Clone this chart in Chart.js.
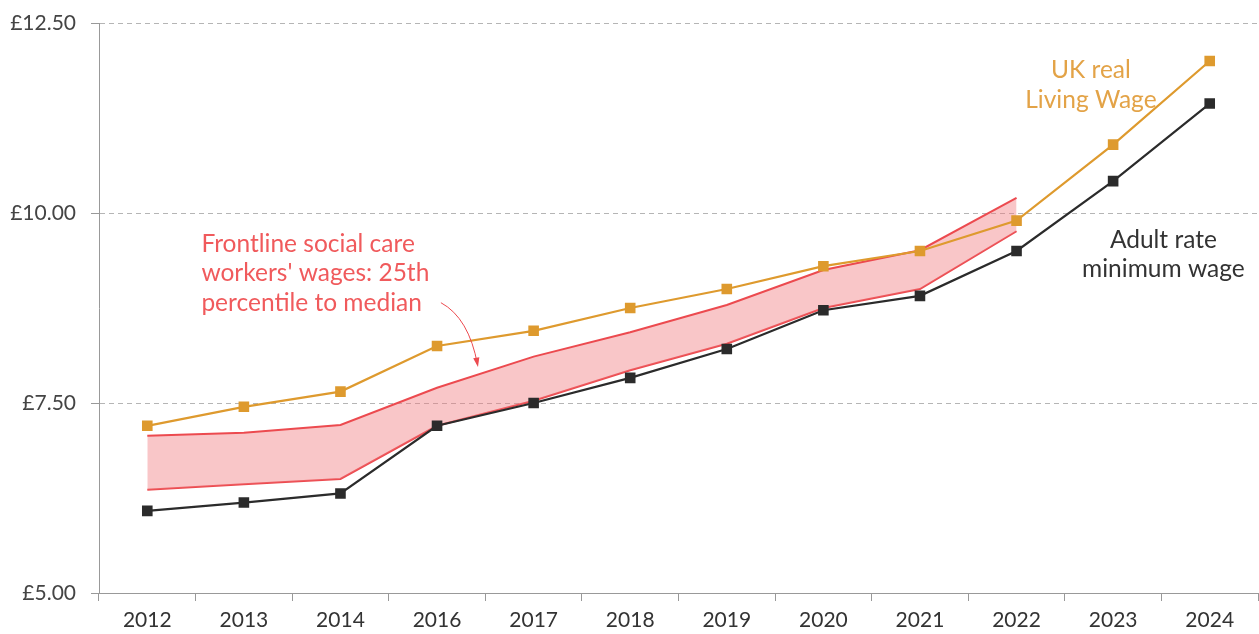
<!DOCTYPE html>
<html>
<head>
<meta charset="utf-8">
<script src="https://cdn.jsdelivr.net/npm/chart.js"></script>
<style>
  html, body { margin: 0; padding: 0; background: #fff; overflow: hidden; }
  #wrap { width: 1259px; height: 634px; position: relative; }
</style>
</head>
<body>
<div id="wrap"><canvas id="wages"></canvas></div>
<script>
// categories (no 2015 in the source)
const years = ['2012', '2013', '2014', '2016', '2017', '2018', '2019', '2020', '2021', '2022', '2023', '2024'];

// UK real Living Wage
const livingWage = [7.20, 7.45, 7.65, 8.25, 8.45, 8.75, 9.00, 9.30, 9.50, 9.90, 10.90, 12.00];
// adult rate minimum wage
const minWage = [6.08, 6.19, 6.31, 7.20, 7.50, 7.83, 8.21, 8.72, 8.91, 9.50, 10.42, 11.44];
// frontline social care workers: median and 25th percentile
const careMedian = [7.07, 7.11, 7.21, 7.70, 8.11, 8.43, 8.79, 9.25, 9.51, 10.20, null, null];
const care25th = [6.36, 6.43, 6.50, 7.20, 7.53, 7.93, 8.28, 8.75, 9.00, 9.76, null, null];

const yTicks = [5, 7.5, 10, 12.5];

const FONT = 'Lato, "Open Sans", sans-serif';
const ORANGE = '#de9a2e';
const BLACK = '#2b2b2b';
const RED = '#ec4a4f';

// labels + arrow, placed in data space (category index, £ value)
const notes = {
  id: 'notes',
  afterDatasetsDraw(chart) {
    const { ctx, scales: { x, y } } = chart;
    ctx.save();
    ctx.font = '24.5px ' + FONT;
    ctx.textBaseline = 'alphabetic';

    ctx.fillStyle = '#f05a5c';
    ctx.textAlign = 'left';
    const careLines = ['Frontline social care', "workers' wages: 25th", 'percentile to median'];
    careLines.forEach((t, i) => ctx.fillText(t, x.getPixelForValue(0.56), y.getPixelForValue(9.487) + i * 29.5));

    ctx.textAlign = 'center';
    ctx.fillStyle = '#e3a347';
    ctx.fillText('UK real', x.getPixelForValue(9.77), y.getPixelForValue(11.78));
    ctx.fillText('Living Wage', x.getPixelForValue(9.77), y.getPixelForValue(11.38));

    ctx.fillStyle = '#333';
    ctx.fillText('Adult rate', x.getPixelForValue(10.52), y.getPixelForValue(9.54));
    ctx.fillText('minimum wage', x.getPixelForValue(10.52), y.getPixelForValue(9.16));

    // curved arrow
    const sx = x.getPixelForValue(3.04), sy = y.getPixelForValue(8.82);
    const cx = x.getPixelForValue(3.33), cy = y.getPixelForValue(8.62);
    const ex = x.getPixelForValue(3.42), ey = y.getPixelForValue(8.0);
    ctx.strokeStyle = RED;
    ctx.fillStyle = RED;
    ctx.lineWidth = 1;
    ctx.beginPath();
    ctx.moveTo(sx, sy);
    ctx.quadraticCurveTo(cx, cy, ex, ey);
    ctx.stroke();
    const ang = Math.atan2(ey - cy, ex - cx);
    ctx.beginPath();
    ctx.moveTo(ex + 2 * Math.cos(ang), ey + 2 * Math.sin(ang));
    ctx.lineTo(ex - 8 * Math.cos(ang - 0.4), ey - 8 * Math.sin(ang - 0.4));
    ctx.lineTo(ex - 8 * Math.cos(ang + 0.4), ey - 8 * Math.sin(ang + 0.4));
    ctx.closePath();
    ctx.fill();
    ctx.restore();
  }
};

const data = {
  labels: years,
  datasets: [
    {
      label: 'UK real Living Wage',
      data: livingWage,
      borderColor: ORANGE,
      backgroundColor: ORANGE,
      borderWidth: 2.2,
      pointStyle: 'rect',
      pointRadius: 7.5,
      pointBorderWidth: 0,
      tension: 0,
      order: 0
    },
    {
      label: 'Adult rate minimum wage',
      data: minWage,
      borderColor: BLACK,
      backgroundColor: BLACK,
      borderWidth: 2.2,
      pointStyle: 'rect',
      pointRadius: 7.5,
      pointBorderWidth: 0,
      tension: 0,
      order: 1
    },
    {
      label: 'Median',
      data: careMedian,
      borderColor: RED,
      backgroundColor: 'rgba(240, 120, 125, 0.42)',
      borderWidth: 2,
      pointRadius: 0,
      fill: '+1',
      spanGaps: false,
      order: 2
    },
    {
      label: '25th percentile',
      data: care25th,
      borderColor: RED,
      borderWidth: 2,
      pointRadius: 0,
      fill: false,
      order: 3
    }
  ]
};

const config = {
  type: 'line',
  data: data,
  options: {
    responsive: true,
    maintainAspectRatio: false,
    animation: false,
    layout: { autoPadding: false, padding: { top: 23, right: 1, left: 0, bottom: 0 } },
    plugins: {
      legend: { display: false },
      tooltip: { enabled: false }
    },
    scales: {
      x: {
        offset: true,
        grid: {
          offset: true,
          drawOnChartArea: false,
          tickLength: 8,
          color: '#999'
        },
        border: { color: '#999', width: 1 },
        ticks: {
          color: '#333',
          font: { family: FONT, size: 21 },
          padding: 7,
          maxRotation: 0
        },
        afterFit(s) {
          s.height = 41;
          s.paddingLeft = 0;
          s.paddingRight = 0;
        }
      },
      y: {
        min: 5,
        max: 12.5,
        afterBuildTicks(s) { s.ticks = yTicks.map(v => ({ value: v })); },
        grid: {
          color: '#b5b5b5',
          tickLength: 8,
          tickColor: '#999',
          tickBorderDash: []
        },
        border: { color: '#999', width: 1, dash: [5, 4] },
        ticks: {
          color: '#444',
          font: { family: FONT, size: 21 },
          padding: 15,
          callback: v => '£' + Number(v).toFixed(2)
        },
        afterFit(s) {
          s.width = 99;
          s.paddingTop = 0;
          s.paddingBottom = 0;
        }
      }
    }
  },
  plugins: [notes]
};

const canvas = document.getElementById('wages');
const wageChart = new Chart(canvas, config);
</script>
</body>
</html>
